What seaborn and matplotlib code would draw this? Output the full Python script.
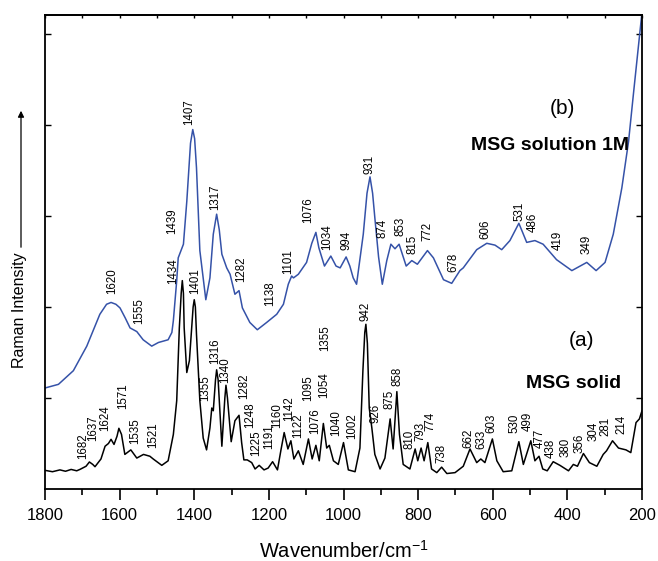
import numpy as np
import pandas as pd
import matplotlib
matplotlib.use("Agg")
import matplotlib.pyplot as plt
import seaborn as sns

# ---------------- data ----------------
solid_wn = [1800, 1780, 1760, 1745, 1730, 1715, 1706, 1690, 1681, 1672, 1666, 1650, 1639, 1630, 1623,
            1615, 1607, 1602, 1595, 1586, 1570, 1554, 1536, 1519, 1510, 1487, 1470, 1456, 1447, 1440,
            1435, 1432, 1429, 1427, 1420, 1413, 1407, 1403, 1400, 1397, 1394, 1385, 1376, 1367, 1358,
            1353, 1349, 1343, 1340, 1336, 1326, 1318, 1315, 1311, 1301, 1291, 1280, 1273, 1267, 1258,
            1246, 1237, 1226, 1213, 1202, 1190, 1177, 1168, 1159, 1149, 1141, 1133, 1121, 1108, 1094,
            1084, 1074, 1065, 1054, 1045, 1038, 1027, 1014, 1000, 987, 969, 956, 948, 943, 940, 936,
            931, 924, 916, 902, 889, 875, 867, 857, 850, 840, 822, 808, 801, 792, 784, 774, 764, 750,
            737, 723, 701, 679, 661, 643, 632, 621, 601, 589, 572, 549, 530, 518, 498, 487, 476, 466,
            454, 438, 420, 397, 384, 373, 357, 341, 321, 304, 295, 279, 263, 243, 230, 216, 207, 200]
solid_int = [0.205, 0.19, 0.21, 0.195, 0.215, 0.20, 0.216, 0.25, 0.297, 0.27, 0.245, 0.33, 0.47, 0.50, 0.546,
             0.49, 0.58, 0.667, 0.60, 0.38, 0.43, 0.34, 0.38, 0.36, 0.33, 0.26, 0.31, 0.60, 0.97, 1.77,
             2.15, 2.29, 2.15, 1.77, 1.28, 1.41, 1.77, 2.00, 2.08, 2.00, 1.70, 0.97, 0.56, 0.43, 0.67,
             0.89, 0.86, 1.20, 1.31, 1.20, 0.47, 1.00, 1.14, 1.00, 0.52, 0.75, 0.81, 0.51, 0.32, 0.32,
             0.29, 0.22, 0.26, 0.21, 0.23, 0.30, 0.21, 0.42, 0.62, 0.44, 0.53, 0.33, 0.42, 0.27, 0.55,
             0.33, 0.48, 0.31, 0.72, 0.45, 0.48, 0.31, 0.27, 0.51, 0.21, 0.19, 0.45, 1.30, 1.72, 1.81, 1.60,
             0.89, 0.67, 0.38, 0.22, 0.34, 0.77, 0.44, 1.07, 0.60, 0.27, 0.22, 0.44, 0.31, 0.45, 0.31, 0.51, 0.22, 0.18,
             0.24, 0.17, 0.18, 0.25, 0.44, 0.29, 0.33, 0.29, 0.55, 0.31, 0.19, 0.20, 0.52, 0.27, 0.53, 0.31, 0.36, 0.22,
             0.20, 0.30, 0.26, 0.20, 0.27, 0.25, 0.39, 0.29, 0.25, 0.38, 0.42, 0.53, 0.45, 0.43, 0.40, 0.73, 0.77, 0.86]

sol_wn = [1800, 1764, 1724, 1688, 1653, 1635, 1623, 1610, 1599, 1585, 1572, 1554, 1537, 1514, 1496,
          1470, 1460, 1456, 1447, 1443, 1429, 1420, 1410, 1404, 1399, 1394, 1385, 1369, 1358, 1349,
          1340, 1333, 1326, 1313, 1304, 1291, 1280, 1271, 1251, 1231, 1206, 1179, 1161, 1148, 1139,
          1134, 1121, 1099, 1085, 1074, 1066, 1051, 1034, 1020, 1009, 993, 983, 974, 965, 947, 937,
          929, 922, 916, 906, 896, 884, 873, 862, 851, 832, 817, 802, 775, 759, 732, 710, 688, 679,
          643, 616, 594, 576, 554, 530, 509, 487, 465, 429, 388, 348, 323, 299, 277, 254, 236, 223,
          211, 201]
sol_int = [1.11, 1.15, 1.30, 1.57, 1.92, 2.03, 2.05, 2.03, 1.99, 1.88, 1.77, 1.73, 1.64, 1.57, 1.61,
           1.64, 1.72, 1.85, 2.29, 2.54, 2.69, 3.16, 3.80, 3.95, 3.85, 3.53, 2.62, 2.08, 2.32, 2.80,
           3.02, 2.85, 2.58, 2.43, 2.36, 2.14, 2.18, 1.99, 1.83, 1.75, 1.83, 1.92, 2.03, 2.25, 2.34,
           2.32, 2.36, 2.49, 2.70, 2.82, 2.65, 2.45, 2.56, 2.45, 2.43, 2.55, 2.45, 2.32, 2.25, 2.80, 3.25,
           3.43, 3.25, 2.98, 2.55, 2.25, 2.51, 2.69, 2.64, 2.69, 2.45, 2.51, 2.47, 2.62, 2.54, 2.30, 2.26, 2.40, 2.43,
           2.63, 2.70, 2.68, 2.63, 2.73, 2.92, 2.71, 2.73, 2.69, 2.52, 2.40, 2.49, 2.40, 2.49, 2.80, 3.31, 3.82, 4.34,
           4.81, 5.20]

# peak labels: text, x (wavenumber) and y (intensity) of the label's lower end
sol_labels = ["1407", "1439", "1317", "1076", "1034", "994", "1101", "1282", "1434", "1620", "1555",
              "1138", "931", "874", "853", "815", "772", "678", "606", "531", "486", "419", "349"]
sol_label_x = [1414, 1460, 1344, 1094, 1043, 993, 1148, 1273, 1456, 1619, 1547,
               1197, 931, 896, 846, 816, 775, 706, 619, 529, 493, 426, 348]
sol_label_y = [4.00, 2.80, 3.07, 2.92, 2.63, 2.63, 2.36, 2.27, 2.25, 2.14, 1.81,
               2.01, 3.46, 2.76, 2.78, 2.58, 2.73, 2.38, 2.75, 2.95, 2.82, 2.63, 2.58]

solid_labels = ["1682", "1637", "1624", "1571", "1535", "1521", "1401", "1355", "1316", "1340", "1282",
                "1248", "1225", "1191", "1160", "1142", "1122", "1095", "1076", "1355", "1054", "1040",
                "1002", "942", "926", "875", "858", "810", "793", "774", "738", "662", "633", "603",
                "530", "499", "477", "438", "380", "356", "304", "281", "214"]
solid_label_x = [1699, 1672, 1639, 1590, 1559, 1510, 1398, 1371, 1344, 1318, 1267,
                 1249, 1235, 1199, 1179, 1145, 1121, 1096, 1076, 1050, 1051, 1020,
                 978, 942, 913, 877, 856, 824, 795, 766, 737, 666, 630, 603,
                 542, 505, 473, 445, 405, 368, 331, 299, 254]
solid_label_y = [0.33, 0.53, 0.64, 0.88, 0.49, 0.45, 2.14, 0.97, 1.37, 1.17, 0.99,
                 0.67, 0.36, 0.44, 0.67, 0.75, 0.56, 0.97, 0.60, 1.52, 1.00, 0.58,
                 0.55, 1.85, 0.73, 0.88, 1.13, 0.44, 0.53, 0.64, 0.29, 0.45, 0.44, 0.62,
                 0.62, 0.64, 0.45, 0.34, 0.35, 0.40, 0.53, 0.58, 0.60]

# ---------------- figure ----------------
sns.set_theme(style="ticks")
plt.rcParams["font.family"] = ["Liberation Sans", "DejaVu Sans"]
plt.rcParams["text.color"] = "black"
plt.rcParams["axes.labelcolor"] = "black"
plt.rcParams["xtick.color"] = "black"
plt.rcParams["ytick.color"] = "black"
plt.rcParams["axes.edgecolor"] = "black"

fig = plt.figure(figsize=(6.58, 5.61), dpi=100)
ax = fig.add_axes([45 / 658, 1 - 489 / 561, 597 / 658, 474 / 561])

df_solid = pd.DataFrame({"wn": solid_wn, "I": solid_int})
df_sol = pd.DataFrame({"wn": sol_wn, "I": sol_int})
sns.lineplot(data=df_solid, x="wn", y="I", sort=False, estimator=None, color="black", lw=1.1, ax=ax)
sns.lineplot(data=df_sol, x="wn", y="I", sort=False, estimator=None, color="#3552A8", lw=1.1, ax=ax)

ax.set_xlim(1800, 200)
ax.set_ylim(0, 474 / 91)

for t, x, y in zip(sol_labels, sol_label_x, sol_label_y):
    ax.text(x, y, t, rotation=90, ha="center", va="bottom", fontsize=8.3, color="black")
for t, x, y in zip(solid_labels, solid_label_x, solid_label_y):
    ax.text(x, y, t, rotation=90, ha="center", va="bottom", fontsize=8.3, color="black")

ax.text(562 / 658, 1 - 108 / 561, "(b)", transform=fig.transFigure, ha="center", va="center", fontsize=15,
        color="black")
ax.text(550 / 658, 1 - 145 / 561, "MSG solution 1M", transform=fig.transFigure, ha="center", va="center",
        fontsize=14, fontweight="bold", color="black")
ax.text(582 / 658, 1 - 341 / 561, "(a)", transform=fig.transFigure, ha="center", va="center", fontsize=15,
        color="black")
ax.text(574 / 658, 1 - 383 / 561, "MSG solid", transform=fig.transFigure, ha="center", va="center",
        fontsize=14, fontweight="bold", color="black")

# axes styling
for s in ax.spines.values():
    s.set_linewidth(1.3)
    s.set_color("black")
ax.set_xticks([1800, 1600, 1400, 1200, 1000, 800, 600, 400, 200])
ax.set_xticks(np.arange(200, 1801, 100), minor=True)
ax.tick_params(axis="x", which="major", direction="out", length=8, width=1.2, labelsize=12, pad=6,
               color="black", labelcolor="black")
ax.tick_params(axis="x", which="minor", direction="out", length=4.5, width=1.2, color="black")
ax.set_yticks([1, 2, 3, 4, 5])
ax.tick_params(axis="y", which="major", direction="in", length=4, width=1.0, left=True, right=True,
               labelleft=False, color="black")
sec = ax.secondary_xaxis("top")
sec.set_xticks(np.arange(200, 1801, 100))
sec.tick_params(direction="in", length=2.5, width=1.0, labeltop=False, color="black")
sec.spines["top"].set_linewidth(1.3)
sec.spines["top"].set_color("black")

ax.set_xlabel("Wavenumber/cm$^{\\mathregular{-1}}$", fontsize=14.5, labelpad=12, color="black")
ax.set_ylabel("")

fig.text(20 / 658, 1 - 310 / 561, "Raman Intensity", rotation=90, ha="center", va="center", fontsize=11.5,
         color="black")
fig.patches.append(matplotlib.patches.FancyArrowPatch(
    (21 / 658, 1 - 250 / 561), (21 / 658, 1 - 108 / 561), transform=fig.transFigure,
    arrowstyle="-|>", mutation_scale=9, lw=0.9, color="black"))

fig.savefig("out.png", dpi=100)
